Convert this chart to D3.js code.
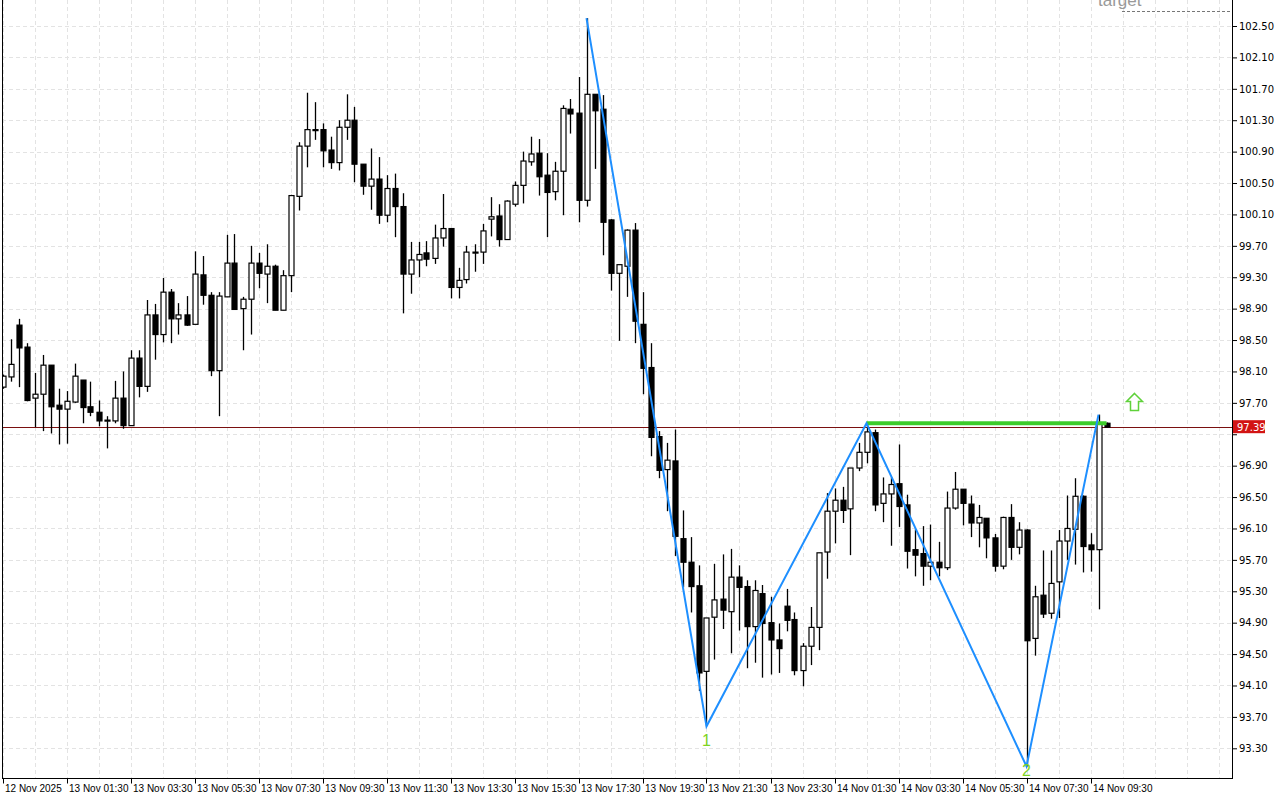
<!DOCTYPE html>
<html>
<head>
<meta charset="utf-8">
<script src="https://cdn.jsdelivr.net/npm/d3@7"></script>
<style>
  body { margin: 0; background: #fff; }
  svg { display: block; font-family: "Liberation Sans", Arial, sans-serif; }
</style>
</head>
<body>
<div id="chart"></div>
<script>
// 15 minute bars, 12 Nov 23:30 .. 14 Nov 10:00
const opens = [97.90,98.03,98.69,98.41,97.76,97.81,98.18,97.67,97.62,97.71,97.99,97.65,97.58,97.48,97.47,97.76,97.41,98.27,97.91,98.82,
  98.57,99.11,98.77,98.82,98.70,99.33,99.07,98.11,99.05,99.48,98.90,99.02,99.48,99.34,99.44,98.88,99.32,100.33,100.97,101.18,
  101.18,100.92,100.76,101.21,101.30,100.74,100.46,100.55,100.09,100.43,100.20,99.34,99.52,99.61,99.54,99.80,99.92,99.17,99.27,99.62,
  99.62,100.04,100.08,99.78,100.23,100.47,100.77,100.88,100.60,100.39,100.65,101.44,101.39,100.28,101.63,101.44,100.03,99.35,99.44,99.90,
  98.70,98.15,97.27,96.85,96.96,95.97,95.67,95.37,94.28,94.97,95.20,95.04,95.48,95.36,94.85,95.27,94.90,94.68,95.11,94.94,
  94.29,94.60,94.84,95.80,96.32,96.46,96.35,96.87,97.07,97.32,96.42,96.54,96.67,96.40,95.83,95.78,95.62,95.67,95.60,96.36,
  96.60,96.41,96.17,96.23,95.98,95.62,96.24,95.86,96.08,94.70,95.25,95.02,95.42,95.94,96.09,96.51,95.89,95.83,97.44]
const highs = [98.06,98.51,98.77,98.46,98.08,98.31,98.18,97.88,97.85,98.20,97.99,97.97,97.73,97.53,97.98,98.10,98.37,98.37,99.01,98.96,
  99.29,99.15,98.97,99.06,99.63,99.57,99.11,99.11,99.84,99.85,99.05,99.70,99.61,99.72,99.46,99.39,100.35,101.02,101.65,101.53,
  101.26,101.09,101.30,101.63,101.47,100.74,100.94,100.83,100.60,100.62,100.37,99.75,99.75,99.76,99.97,100.36,99.92,99.42,99.70,99.72,
  99.98,100.32,100.23,100.28,100.52,100.90,101.09,101.06,100.88,100.77,101.49,101.57,101.85,102.60,101.63,101.62,100.04,99.46,99.91,99.99,
  99.11,98.46,97.34,97.19,97.36,96.33,95.99,95.63,94.96,95.65,95.77,95.84,95.63,95.44,95.44,95.38,95.23,94.89,95.33,95.03,
  94.64,95.10,95.79,96.55,96.61,96.63,96.87,97.19,97.44,97.36,96.75,96.75,97.17,96.53,96.09,96.13,96.15,95.93,96.57,96.82,
  96.60,96.52,96.40,96.23,96.03,96.25,96.41,96.18,96.09,95.37,95.82,95.82,96.08,96.52,96.74,96.52,96.04,97.55,97.45]
const lows = [97.88,97.97,97.90,97.72,97.39,97.34,97.31,97.17,97.18,97.70,97.44,97.53,97.40,97.12,97.44,97.37,97.41,97.77,97.84,98.25,
  98.47,98.46,98.57,98.68,98.70,98.95,98.04,97.53,99.05,98.89,98.37,98.57,99.16,98.97,98.88,98.88,99.11,100.15,100.70,101.05,
  100.70,100.68,100.66,101.05,100.51,100.35,100.16,99.98,100.00,99.81,98.84,99.09,99.30,99.44,99.47,99.69,99.03,99.03,99.22,99.37,
  99.47,99.82,99.69,99.78,100.20,100.24,100.72,100.34,99.81,100.28,100.09,101.13,100.00,100.20,100.68,99.58,99.13,98.49,99.05,98.46,
  97.81,97.02,96.74,96.32,95.75,95.35,95.03,94.03,93.58,94.43,94.82,94.51,94.80,94.32,94.39,94.20,94.24,94.26,94.79,94.23,
  94.09,94.36,94.55,95.46,95.91,96.17,95.76,96.83,96.93,96.32,96.18,95.88,96.12,95.59,95.49,95.37,95.44,95.49,95.57,96.34,
  96.14,95.99,95.86,95.72,95.55,95.58,95.70,95.77,93.07,94.48,94.96,94.95,94.96,95.70,95.64,95.54,95.55,95.07,97.39]
const closes = [98.04,98.19,98.40,97.73,97.81,98.18,97.65,97.62,97.72,98.04,97.64,97.58,97.47,97.48,97.76,97.41,98.27,97.91,98.82,98.57,
  99.11,98.77,98.82,98.69,99.34,99.07,98.11,99.06,99.48,98.89,99.02,99.48,99.35,99.44,98.88,99.32,100.34,100.97,101.18,101.17,
  100.91,100.76,101.21,101.30,100.74,100.46,100.55,100.09,100.43,100.20,99.34,99.52,99.59,99.53,99.80,99.92,99.17,99.26,99.62,99.62,
  99.89,100.07,99.78,100.27,100.47,100.78,100.87,100.58,100.38,100.65,101.45,101.38,100.28,101.63,101.42,100.00,99.35,99.46,99.90,98.74,
  98.14,97.26,96.84,96.97,96.00,95.67,95.36,94.26,94.96,95.19,95.06,95.48,95.35,94.85,95.31,94.89,94.68,94.57,94.93,94.29,
  94.60,94.84,95.79,96.32,96.46,96.33,96.87,97.07,97.33,96.40,96.54,96.66,96.38,95.81,95.76,95.62,95.67,95.60,96.36,96.60,
  96.42,96.17,96.24,95.98,95.62,96.24,95.86,96.08,94.67,95.23,95.01,95.40,95.94,96.10,96.51,95.87,95.83,97.44,97.39]

const priceTicks = [93.30,93.70,94.10,94.50,94.90,95.30,95.70,96.10,96.50,96.90,97.30,97.70,98.10,98.50,98.90,99.30,99.70,100.10,100.50,100.90,101.30,101.70,102.10,102.50]
const timeLabels = ["12 Nov 2025","13 Nov 01:30","13 Nov 03:30","13 Nov 05:30","13 Nov 07:30","13 Nov 09:30","13 Nov 11:30","13 Nov 13:30","13 Nov 15:30",
  "13 Nov 17:30","13 Nov 19:30","13 Nov 21:30","13 Nov 23:30","14 Nov 01:30","14 Nov 03:30","14 Nov 05:30","14 Nov 07:30","14 Nov 09:30"]

// zigzag pivots (bar index, price) and breakout level
const pivotBars = [73, 88, 108, 128, 137]
const pivotPrices = [102.60, 93.58, 97.44, 93.07, 97.55]
const pivotLabels = [null, "1", null, "2", null]
const levelPrice = 97.44
const levelBars = [108, 138]
const lastPrice = 97.39

const W = 1280, H = 800
const PLOT = {left: 2, right: 1232, top: 0, bottom: 778}

const svg = d3.select("#chart").append("svg").attr("width", W).attr("height", H)

const x = d3.scaleLinear().domain([0, 138]).range([2.5, 1106.5])
const y = d3.scaleLinear().domain([93.30, 102.50]).range([748.3, 26])

svg.append("defs").append("clipPath").attr("id", "plot")
  .append("rect").attr("x", PLOT.left).attr("y", PLOT.top)
  .attr("width", PLOT.right - PLOT.left).attr("height", PLOT.bottom - PLOT.top)

const plot = svg.append("g").attr("clip-path", "url(#plot)")

// grid
plot.selectAll("line.hg").data(priceTicks).enter().append("line")
  .attr("x1", PLOT.left).attr("x2", PLOT.right)
  .attr("y1", d => Math.round(y(d)) + 0.5).attr("y2", d => Math.round(y(d)) + 0.5)
  .attr("stroke", "#e3e3e3").attr("stroke-dasharray", "4,3")
const vgrid = d3.range(0, 154, 4)
plot.selectAll("line.vg").data(vgrid).enter().append("line")
  .attr("x1", d => Math.round(x(d)) + 0.5).attr("x2", d => Math.round(x(d)) + 0.5)
  .attr("y1", PLOT.top).attr("y2", PLOT.bottom)
  .attr("stroke", "#e3e3e3").attr("stroke-dasharray", "4,3")

// last price line
plot.append("line")
  .attr("x1", PLOT.left).attr("x2", PLOT.right)
  .attr("y1", Math.round(y(lastPrice)) + 0.5).attr("y2", Math.round(y(lastPrice)) + 0.5)
  .attr("stroke", "#7a1010").attr("stroke-width", 1)

// candles
const bars = d3.range(opens.length)
const cg = plot.selectAll("g.c").data(bars).enter().append("g")
cg.append("line")
  .attr("x1", i => Math.round(x(i)) + 0.5).attr("x2", i => Math.round(x(i)) + 0.5)
  .attr("y1", i => y(highs[i])).attr("y2", i => y(lows[i]))
  .attr("stroke", "#000").attr("stroke-width", 1.3)
cg.append("rect")
  .attr("x", i => Math.round(x(i)) - 2)
  .attr("y", i => y(Math.max(opens[i], closes[i])))
  .attr("width", 5)
  .attr("height", i => Math.max(1, Math.abs(y(opens[i]) - y(closes[i]))))
  .attr("fill", i => closes[i] >= opens[i] ? "#fff" : "#000")
  .attr("stroke", "#000").attr("stroke-width", 1.2)

// breakout level
plot.append("line")
  .attr("x1", x(levelBars[0])).attr("x2", x(levelBars[1]))
  .attr("y1", y(levelPrice)).attr("y2", y(levelPrice))
  .attr("stroke", "#3ccc2a").attr("stroke-width", 4)

// zigzag
const zz = d3.line().x(d => x(d[0])).y(d => y(d[1]))
plot.append("path")
  .datum(pivotBars.map((b, k) => [b, pivotPrices[k]]))
  .attr("d", zz).attr("fill", "none")
  .attr("stroke", "#1e8fff").attr("stroke-width", 2)

plot.selectAll("text.pl").data(pivotBars.map((b, k) => [b, pivotPrices[k], pivotLabels[k]]).filter(d => d[2]))
  .enter().append("text")
  .attr("x", d => x(d[0])).attr("y", d => Math.min(y(d[1]) + 20, 776))
  .attr("text-anchor", "middle").attr("font-size", 16)
  .attr("fill", "#7ed321").text(d => d[2])

// up arrow signal
const ax = x(141.5), ay = y(97.82)
plot.append("path")
  .attr("d", `M${ax},${ay} l8,8 h-4 v9 h-8 v-9 h-4 z`)
  .attr("fill", "#fff").attr("stroke", "#5fd13a").attr("stroke-width", 1.5)

// "target" label (cut off at top)
plot.append("text").attr("x", 1098).attr("y", 6)
  .attr("font-size", 17).attr("fill", "#999").text("target")
plot.append("line").attr("x1", 1122).attr("x2", PLOT.right).attr("y1", 11.5).attr("y2", 11.5)
  .attr("stroke", "#777").attr("stroke-dasharray", "3,2")

// frame
svg.append("line").attr("x1", PLOT.left + 0.5).attr("x2", PLOT.left + 0.5).attr("y1", 0).attr("y2", PLOT.bottom)
  .attr("stroke", "#000")
svg.append("line").attr("x1", PLOT.right + 0.5).attr("x2", PLOT.right + 0.5).attr("y1", 0).attr("y2", PLOT.bottom + 0.5)
  .attr("stroke", "#000")
svg.append("line").attr("x1", PLOT.left).attr("x2", PLOT.right + 1).attr("y1", PLOT.bottom + 0.5).attr("y2", PLOT.bottom + 0.5)
  .attr("stroke", "#000")

// price axis
const yAxis = svg.append("g").attr("transform", `translate(${PLOT.right + 1},0)`)
  .call(d3.axisRight(y).tickValues(priceTicks).tickFormat(d3.format(".2f")).tickSize(4).tickPadding(2))
yAxis.select(".domain").remove()
yAxis.selectAll("text").attr("font-size", 10).attr("fill", "#000")
  .attr("font-family", "'DejaVu Sans', sans-serif")
  .attr("visibility", d => Math.abs(d - lastPrice) < 0.15 ? "hidden" : null)

// current price tag
const tag = svg.append("g").attr("transform", `translate(${PLOT.right + 1},${y(lastPrice)})`)
tag.append("rect").attr("x", 0).attr("y", -7).attr("width", 32).attr("height", 13).attr("fill", "#d21414")
tag.append("text").attr("x", 4).attr("y", 4).attr("font-size", 10).attr("fill", "#fff")
  .attr("font-family", "'DejaVu Sans', sans-serif").text(lastPrice.toFixed(2))

// time axis
const labelBars = timeLabels.map((_, k) => k * 8)
const xAxis = svg.append("g").attr("transform", `translate(0,${PLOT.bottom + 0.5})`)
xAxis.selectAll("line").data(labelBars).enter().append("line")
  .attr("x1", d => Math.round(x(d)) + 0.5).attr("x2", d => Math.round(x(d)) + 0.5)
  .attr("y1", 0).attr("y2", 5).attr("stroke", "#000")
xAxis.selectAll("text").data(labelBars).enter().append("text")
  .attr("x", d => Math.round(x(d)) + 2).attr("y", 13)
  .attr("font-size", 10).attr("font-family", "'Liberation Sans', Arial, sans-serif")
  .text((d, k) => timeLabels[k])
</script>
</body>
</html>
